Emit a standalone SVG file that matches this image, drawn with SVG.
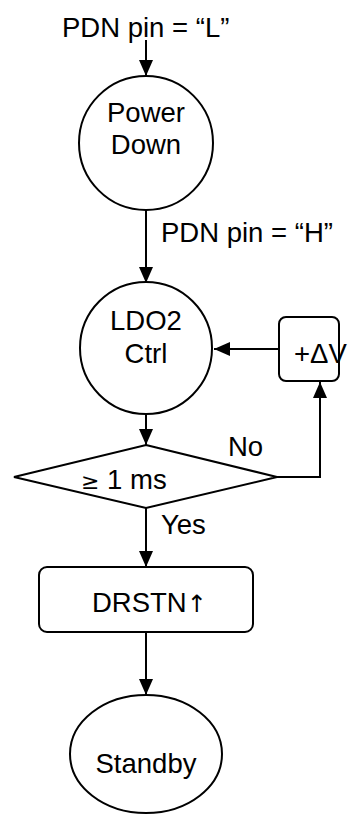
<svg xmlns="http://www.w3.org/2000/svg" width="352" height="816" viewBox="0 0 352 816">
<style>
.s{fill:#fff;stroke:#000;stroke-width:2}
.c{fill:none;stroke:#000;stroke-width:2}
text{font-family:"Liberation Sans",Arial,sans-serif;font-size:27.5px;fill:#000}
.m{text-anchor:middle}
.sym{font-family:"DejaVu Sans",sans-serif;fill:#000}
</style>
<defs>
<marker id="ah" viewBox="0 0 16 14" refX="16" refY="7" markerWidth="16" markerHeight="14" markerUnits="userSpaceOnUse" orient="auto">
<path d="M0,0 L16,7 L0,14 Z" fill="#000"/>
</marker>
</defs>
<g id="connectors">
<path class="c" d="M146,40 V76" marker-end="url(#ah)"/>
<path class="c" d="M146,210 V283" marker-end="url(#ah)"/>
<path class="c" d="M279,349 H214" marker-end="url(#ah)"/>
<path class="c" d="M146,414 V445" marker-end="url(#ah)"/>
<path class="c" d="M277,477 H320 V382" marker-end="url(#ah)"/>
<path class="c" d="M146,508 V567" marker-end="url(#ah)"/>
<path class="c" d="M146,632 V695" marker-end="url(#ah)"/>
</g>
<g id="label-L"><text x="62" y="37">PDN pin = “L”</text></g>
<g id="label-H"><text x="161" y="242">PDN pin = “H”</text></g>
<g id="label-No"><text x="228" y="456">No</text></g>
<g id="label-Yes"><text x="161" y="534">Yes</text></g>
<g id="power-down">
<circle class="s" cx="146" cy="143" r="67"/>
<text class="m" x="146" y="122">Power</text>
<text class="m" x="146" y="154">Down</text>
</g>
<g id="ldo2-ctrl">
<circle class="s" cx="146" cy="348" r="66"/>
<text class="m" x="146" y="330">LDO2</text>
<text class="m" x="146" y="363">Ctrl</text>
</g>
<g id="plus-dv">
<rect class="s" x="279" y="317" width="60" height="64" rx="7"/>
<text x="294" y="363">+ΔV</text>
</g>
<g id="decision">
<polygon class="s" points="146,445 277,477 146,508 14,477"/>
<text x="81" y="489"><tspan class="sym" font-size="22">≥</tspan> 1 ms</text>
</g>
<g id="drstn">
<rect class="s" x="39" y="567" width="214" height="65" rx="8"/>
<text x="92" y="612">DRSTN<tspan class="sym" font-size="24">↑</tspan></text>
</g>
<g id="standby">
<ellipse class="s" cx="146" cy="754" rx="76" ry="59"/>
<text class="m" x="146" y="773">Standby</text>
</g>
</svg>
